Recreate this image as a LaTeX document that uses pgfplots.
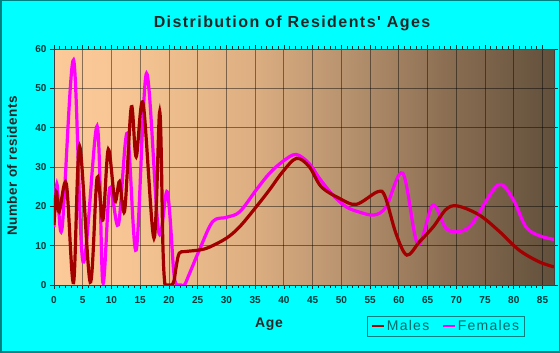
\documentclass[border=0pt]{standalone}
\usepackage{pgfplots}
\pgfplotsset{compat=1.18}
\usepackage{fontspec}
\setmainfont{Liberation Sans}
\newfontfamily\titlefont[LetterSpace=9]{Liberation Sans}
\newfontfamily\legfont[LetterSpace=9]{Liberation Sans}
\newfontfamily\labfont[LetterSpace=4]{Liberation Sans}
\definecolor{bgcyan}{HTML}{00FFFF}
\definecolor{bordteal}{HTML}{008080}
\definecolor{tickc}{HTML}{003838}
\definecolor{legtext}{HTML}{006868}
\definecolor{malesc}{HTML}{A20000}
\definecolor{femalesc}{HTML}{FF00FF}
\definecolor{g0}{HTML}{FBCA98}
\definecolor{g1}{HTML}{F6C593}
\definecolor{g2}{HTML}{DCAE81}
\definecolor{g3}{HTML}{B8936F}
\definecolor{g4}{HTML}{8C6F53}
\definecolor{g5}{HTML}{62503C}
\pgfdeclarehorizontalshading{agebg}{100bp}{color(0bp)=(g0); color(25bp)=(g0); color(32.5bp)=(g1); color(45bp)=(g2); color(54bp)=(g3); color(64bp)=(g4); color(75bp)=(g5); color(100bp)=(g5)}
\begin{document}
\begin{tikzpicture}
\fill[bgcyan] (0,0) rectangle (560pt,353pt);
\draw[bordteal, line width=1.5pt] (0.75pt,0.75pt) rectangle (559.25pt,352.25pt);
\useasboundingbox (0,0) rectangle (560pt,353pt);
\begin{axis}[
  at={(54pt,68pt)}, anchor=south west,
  scale only axis, width=500pt, height=236pt,
  xmin=0, xmax=87, ymin=0, ymax=60,
  xtick={0,5,...,85}, ytick={0,10,...,60},
  minor x tick num=4,
  grid=major,
  major grid style={draw=black, draw opacity=0.45, line width=0.8pt},
  axis line style={draw=black!75, line width=0.8pt},
  tick align=outside, major tick length=4pt, minor tick length=3pt,
  tick style={draw=tickc, line width=0.7pt},
  axis background/.style={shading=agebg},
  ticklabel style={font=\fontsize{10}{10}\selectfont\bfseries, text=tickc},
  xticklabel style={yshift=-4pt},
  /pgf/number format/assume math mode=true,
  legend style={at={(0.626,-0.131)}, anchor=north west, draw=bordteal, line width=0.8pt,
    fill=none, font=\legfont\fontsize{14}{14}\selectfont, text=legtext,
    inner xsep=3pt, inner ysep=2pt},
  legend columns=2,
  legend cell align=left,
  /tikz/every even column/.append style={column sep=10pt},
  legend image code/.code={\draw[#1, line width=2.5pt] (0pt,0pt) -- (12pt,0pt);},
]
\addlegendimage{malesc}
\addlegendentry{Males}
\addlegendimage{femalesc}
\addlegendentry{Females}
\addplot[femalesc, line width=3.2pt, smooth, tension=0.55, forget plot] coordinates {
(0,14.8) (0.5,25.7) (1.4,14.4) (3.4,57.2) (5.05,5.9) (7.5,40.4) (8.5,0.6)
(9.7,24.7) (11.2,15.3) (12.75,38.6) (14.3,8.9) (16.1,53.8) (18.2,13.6)
(19.7,23.7) (20.8,4) (21.15,0.6) (21.5,0) (22.1,0) (22.7,0) (23.6,3) (25.3,8.9) (27.6,16.1) (30,17.2)
(32.3,18.6) (35.2,24.2) (37.5,28.4) (39.8,31.4) (42.1,33.2) (44.4,30.9)
(46.2,27.1) (48.5,22.9) (50.8,19.9) (53,18.6) (55.7,17.8) (57.8,19.9)
(60.7,28.4) (63.3,10.4) (65.9,20.3) (68.2,14.4) (70.5,13.6) (72.8,15.7)
(77.2,25.4) (79.8,22) (82.1,14.8) (84.5,12.5) (87,11.6)
};
\addplot[malesc, line width=3.2pt, smooth, tension=0.55, forget plot] coordinates {
(0,15.3) (0.4,23.7) (0.9,18.6) (2.15,25.7) (3.4,0.6) (4.45,35.3) (6.3,0.7)
(7.5,27.3) (8.5,16.5) (9.45,34.5) (10.6,21.4) (11.4,26.3) (12.3,19)
(13.45,45.3) (14.3,32.6) (15.5,46.2) (17.4,11.9) (18.4,44.1) (18.95,10) (19.25,0.8)
(19.5,0) (20.0,0) (20.5,0) (20.9,1.2) (21.3,5) (21.8,8.1) (22.8,8.5) (25.3,8.9) (27,9.6) (30,11.9) (32.3,14.8)
(35.2,19.9) (37.5,24.2) (39.8,28.8) (42.2,32.2) (44.4,30.1) (46.5,25)
(49.7,22) (52.6,20.5) (56.3,23.7) (57.6,22.5) (59.5,13.1) (61.4,7.6)
(63.6,11) (66,14.8) (68.2,19.2) (70.2,20.1) (74,17.8) (77.5,13.6)
(80.9,8.9) (84.4,5.9) (87,4.6)
};
\end{axis}
\node[font=\titlefont\fontsize{16}{16}\selectfont\bfseries, text=black!85] at (292pt,330pt) {Distribution of Residents' Ages};
\node[rotate=90, font=\labfont\fontsize{13.5}{14}\selectfont\bfseries, text=black!85] at (12pt,187pt) {Number of residents};
\node[font=\labfont\fontsize{14}{14}\selectfont\bfseries, text=black!85] at (269pt,29pt) {Age};
\end{tikzpicture}
\end{document}
